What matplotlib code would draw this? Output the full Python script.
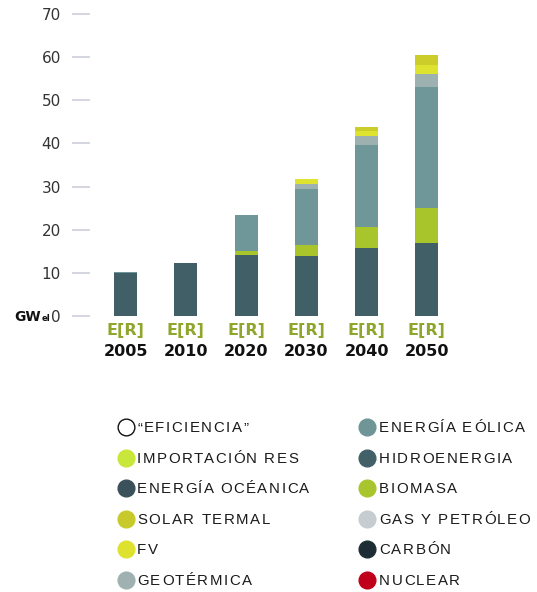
import numpy as np
import matplotlib
matplotlib.use('Agg')
from matplotlib import pyplot as plt
from matplotlib.font_manager import FontProperties
from matplotlib.textpath import TextToPath

# datos (GWel) por año, escenario E[R]
years = ['2005', '2010', '2020', '2030', '2040', '2050']
hidro = [10.0, 12.4, 14.2, 13.9, 15.8, 16.9]
biomasa = [0.0, 0.0, 0.9, 2.6, 4.8, 8.2]
eolica = [0.3, 0.0, 8.3, 13.0, 19.1, 28.0]
geotermica = [0.0, 0.0, 0.0, 1.1, 2.1, 3.0]
fv = [0.0, 0.0, 0.0, 1.2, 1.1, 2.1]
solar_termal = [0.0, 0.0, 0.0, 0.0, 1.0, 2.4]

series = [hidro, biomasa, eolica, geotermica, fv, solar_termal]
colores = ['#415f67', '#a8c52b', '#6f9699', '#9db1b0', '#dde32f', '#cccc2a']

legend_left = ['\u201cEFICIENCIA\u201d', 'IMPORTACIÓN RES', 'ENERGÍA OCÉANICA',
               'SOLAR TERMAL', 'FV', 'GEOTÉRMICA']
legend_left_c = ['white', '#c9e63a', '#3a5159', '#c8c92a', '#dee22f', '#9fb1b1']
legend_right = ['ENERGÍA EÓLICA', 'HIDROENERGIA', 'BIOMASA',
                'GAS Y PETRÓLEO', 'CARBÓN', 'NUCLEAR']
legend_right_c = ['#6f9597', '#426068', '#a9c42c', '#c5cdd1', '#1e2d35', '#c0001a']

W, H = 537, 592
fig = plt.figure(figsize=(W / 100, H / 100), dpi=100)
ax = fig.add_axes([90 / W, 1 - 316 / H, 370 / W, 302 / H])

x = np.arange(len(years))
bottom = np.zeros(len(years))
for vals, c in zip(series, colores):
    ax.bar(x, vals, width=0.38, bottom=bottom, color=c, linewidth=0)
    bottom += np.array(vals)

ax.set_ylim(0, 70)
ax.set_xlim(-0.59, 5.55)
ax.set_yticks(range(0, 71, 10))
ax.tick_params(axis='y', length=13, width=1.1, color='#c8ccd6', pad=8,
               labelsize=11, labelcolor='#333333')
ax.set_xticks([])
for s in ax.spines.values():
    s.set_visible(False)

# overlay en pixeles para etiquetas y leyenda
ov = fig.add_axes([0, 0, 1, 1])
ov.set_xlim(0, W)
ov.set_ylim(H, 0)
ov.axis('off')
ov.patch.set_alpha(0)

t2p = TextToPath()


def px_width(s, prop):
    w, h, d = t2p.get_text_width_height_descent(s + '|', prop, ismath=False)
    w0, h0, d0 = t2p.get_text_width_height_descent('|', prop, ismath=False)
    return (w - w0) * 100 / 72


narrow = ['Liberation Sans Narrow', 'DejaVu Sans']
for i, yr in enumerate(years):
    xp = ax.transData.transform((i, 0))[0]
    ov.text(xp, 331, 'E[R]', ha='center', va='center', fontsize=11.5,
            fontweight='bold', color='#8ea62b', family=narrow)
    ov.text(xp, 351, yr, ha='center', va='center', fontsize=11.5,
            fontweight='bold', color='#111111', family=narrow)

gw_prop = FontProperties(family='Liberation Sans Narrow', weight='bold', size=10)
ov.text(14, 321, 'GW', ha='left', va='baseline', fontproperties=gw_prop,
        color='#111111')
ov.text(14 + px_width('GW', gw_prop) + 0.5, 321, 'el', ha='left', va='baseline',
        fontsize=6, fontweight='bold', color='#111111', family=narrow)

# texto con espaciado entre letras
prop = FontProperties(family='Liberation Sans', size=10.8)
ref = 'ENERGÍA EÓLICA'
track = (146 - px_width(ref, prop)) / (len(ref) - 1)


def spaced_text(x0, y0, s):
    for k, ch in enumerate(s):
        if ch == ' ':
            continue
        xk = x0 + px_width(s[:k], prop) + track * k
        ov.text(xk, y0 + 5.4, ch, ha='left', va='baseline', fontproperties=prop,
                color='#1a1a1a')


rows_y = [427, 457.5, 488, 518.5, 549, 580]
for labels, cols, cx, tx in [(legend_left, legend_left_c, 126, 137),
                             (legend_right, legend_right_c, 367, 379)]:
    for lab, c, yy in zip(labels, cols, rows_y):
        ec = '#111111' if c == 'white' else c
        ov.scatter([cx], [yy], s=145, color=c, edgecolors=ec, linewidths=1.0)
        spaced_text(tx, yy, lab)

fig.savefig('out.png', dpi=100)
